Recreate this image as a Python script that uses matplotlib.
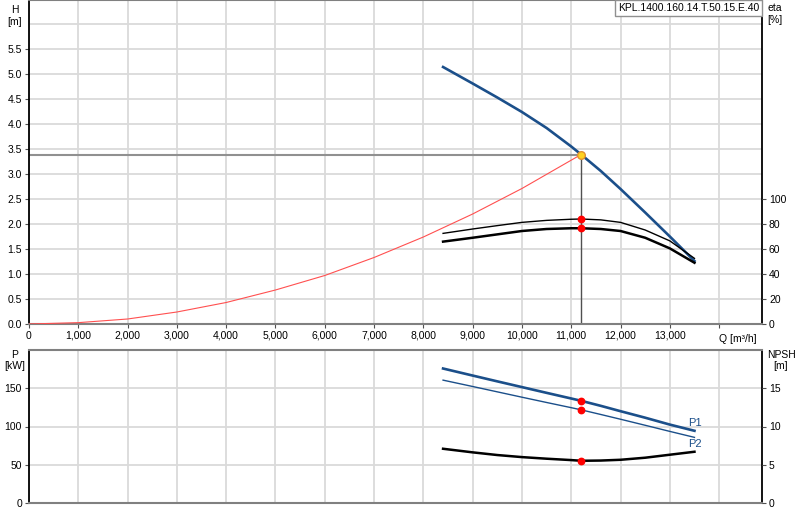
#import relevant libraries
import numpy as np
import matplotlib.pyplot as plt
from matplotlib.ticker import FuncFormatter
import matplotlib.transforms as mtransforms

plt.rcParams['font.family'] = ['Liberation Sans', 'DejaVu Sans']

#pump curve data
q_pump = [8400, 9000, 9500, 10000, 10500, 11000, 11200, 11600, 12000, 12500, 13000, 13500]
h_pump = [5.14, 4.81, 4.53, 4.24, 3.92, 3.55, 3.39, 3.06, 2.70, 2.23, 1.75, 1.26]
eta_thin = [72.5, 76.0, 78.7, 81.3, 82.9, 83.8, 84.0, 83.3, 81.3, 75.2, 66.5, 52.5]
eta_thick = [65.9, 69.0, 71.7, 74.4, 76.0, 76.6, 76.6, 76.0, 74.4, 69.0, 60.5, 49.0]
p1 = [175.8, 166.6, 159.0, 151.5, 144.0, 136.6, 133.6, 127.0, 120.0, 111.5, 102.5, 94.4]
p2 = [160.6, 152.3, 145.3, 138.3, 131.4, 124.6, 121.8, 115.7, 109.5, 101.6, 93.6, 85.8]
npsh = [7.09, 6.62, 6.27, 6.00, 5.79, 5.61, 5.52, 5.55, 5.65, 5.92, 6.31, 6.70]

#system curve
q_sys = [0, 1000, 2000, 3000, 4000, 5000, 6000, 7000, 8000, 9000, 10000, 11200]
h_sys = [0, 0.027, 0.10, 0.24, 0.43, 0.68, 0.97, 1.33, 1.74, 2.20, 2.71, 3.39]

#operating point
q_op = 11200
h_op = 3.39
eta_op = [84.0, 76.6]
p_op = [133.6, 121.8]
npsh_op = 5.52

pump_name = 'KPL.1400.160.14.T.50.15.E.40'

blue = '#1b4f8a'
grid_col = '#dadada'
q_max = 14870
h_max = 6.48

fig = plt.figure(figsize=(8, 5.2), dpi=100)
ax = fig.add_axes([29/800, (520-324)/520, 733/800, 324/520])
ax_b = fig.add_axes([29/800, 17/520, 733/800, 153/520])

def style_axes(a):
    a.set_xlim(0, q_max)
    a.set_xticks(np.arange(0, 14001, 1000))
    a.grid(True, color=grid_col, linewidth=1.3)
    a.set_axisbelow(True)
    for s in ['left', 'right']:
        a.spines[s].set_color('black')
        a.spines[s].set_linewidth(1.3)
    for s in ['top', 'bottom']:
        a.spines[s].set_color('#808080')
        a.spines[s].set_linewidth(1.5)
    a.tick_params(labelsize=7.5, length=3, color='#505050', pad=2)

#top chart: head and efficiency
style_axes(ax)
ax.set_ylim(0, h_max)
ax.set_yticks(np.arange(0, 5.51, 0.5))
ax.yaxis.set_major_formatter(FuncFormatter(lambda v, p: f'{v:.1f}'))
ax.axhline(6.0, color=grid_col, linewidth=1.3, zorder=0)
ax.xaxis.set_major_formatter(FuncFormatter(lambda v, p: '' if v >= 14000 else f'{int(v):,}'))
trans = mtransforms.blended_transform_factory(ax.transData, ax.transAxes)
ax.text(14000, -0.03, 'Q [m³/h]', transform=trans, fontsize=7.5, ha='left', va='top')

ax.plot([0, q_op], [h_op, h_op], color='#909090', linewidth=1.5, zorder=2)
ax.plot([q_op, q_op], [0, h_op], color='#505050', linewidth=1.0, zorder=2)
ax.plot(q_sys, h_sys, color='#ff5050', linewidth=0.8, zorder=3)
ax.plot(q_pump, h_pump, color=blue, linewidth=1.9, zorder=4)
ax.plot(q_op, h_op, 'o', markersize=5.5, markerfacecolor='#ffd21f', markeredgecolor='#e09030', zorder=6)

ax2 = ax.twinx()
ax2.set_ylim(0, h_max*40)
ax2.set_yticks(np.arange(0, 101, 20))
ax2.tick_params(labelsize=7.5, length=3, color='#505050', pad=2)
for s in ax2.spines.values():
    s.set_visible(False)
ax2.plot(q_pump, eta_thin, color='black', linewidth=1.0, zorder=4)
ax2.plot(q_pump, eta_thick, color='black', linewidth=1.8, zorder=4)
ax2.plot([q_op]*2, eta_op, 'o', color='#ff0000', markersize=4.6, zorder=6)

fig.text(15/800, 1-5/520, 'H\n[m]', fontsize=7.5, ha='center', va='top', linespacing=1.2)
fig.text(767/800, 1-3/520, 'eta\n[%]', fontsize=7.5, ha='left', va='top', linespacing=1.2)
fig.text(759/800, 1-8/520, pump_name, fontsize=7.5, ha='right', va='center',
         bbox=dict(boxstyle='square,pad=0.25', facecolor='white', edgecolor='#909090', linewidth=1))

#bottom chart: power and NPSH
style_axes(ax_b)
ax_b.set_ylim(0, 200)
ax_b.set_yticks([0, 50, 100, 150])
ax_b.tick_params(axis='x', length=0, labelbottom=False)
ax_b.plot(q_pump, p1, color=blue, linewidth=1.9, zorder=4)
ax_b.plot(q_pump, p2, color=blue, linewidth=1.0, zorder=4)
ax_b.plot([q_op]*2, p_op, 'o', color='#ff0000', markersize=4.6, zorder=6)
ax_b.text(q_pump[-1], p1[-1]+3, 'P1', color=blue, fontsize=8, ha='center', va='bottom')
ax_b.text(q_pump[-1], p2[-1]-2, 'P2', color=blue, fontsize=8, ha='center', va='top')

ax_b2 = ax_b.twinx()
ax_b2.set_ylim(0, 20)
ax_b2.set_yticks([0, 5, 10, 15])
ax_b2.tick_params(labelsize=7.5, length=3, color='#505050', pad=2)
for s in ax_b2.spines.values():
    s.set_visible(False)
ax_b2.plot(q_pump, npsh, color='black', linewidth=1.8, zorder=4)
ax_b2.plot(q_op, npsh_op, 'o', color='#ff0000', markersize=4.6, zorder=6)

fig.text(15/800, 1-350/520, 'P\n[kW]', fontsize=7.5, ha='center', va='top', linespacing=1.1)
fig.text(781/800, 1-350/520, 'NPSH\n[m]', fontsize=7.5, ha='center', va='top', linespacing=1.1)

fig.savefig('out.png', dpi=100)
